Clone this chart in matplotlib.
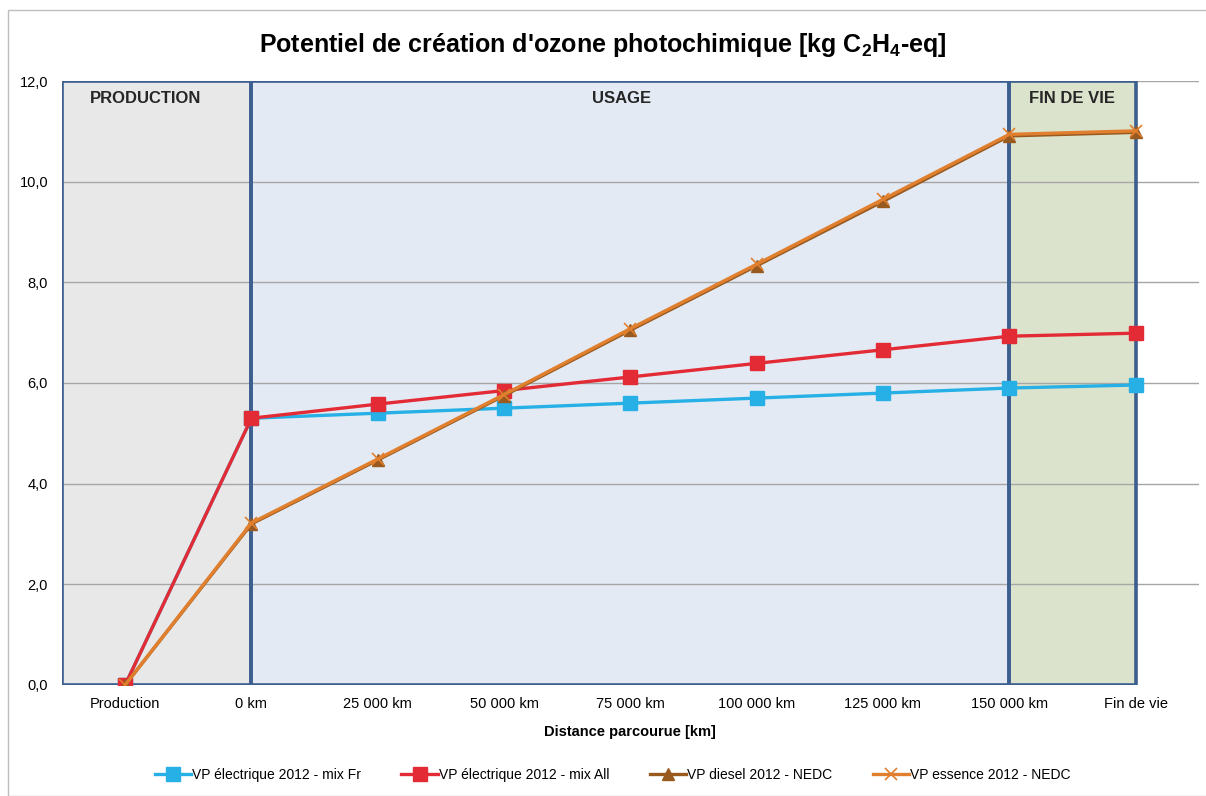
"""
Potentiel de création d'ozone photochimique : courbes cumulées par véhicule
"""

import matplotlib
matplotlib.use("Agg")
import matplotlib.pyplot as plt
from matplotlib.patches import Rectangle

plt.rcParams["font.family"] = ["Liberation Sans", "DejaVu Sans"]
plt.rcParams["mathtext.fontset"] = "custom"
plt.rcParams["mathtext.rm"] = "Liberation Sans:bold"
plt.rcParams["mathtext.it"] = "Liberation Sans:bold"
plt.rcParams["mathtext.bf"] = "Liberation Sans:bold"

# ============== données ==============
categories = ["Production", "0 km", "25 000 km", "50 000 km", "75 000 km",
              "100 000 km", "125 000 km", "150 000 km", "Fin de vie"]
elec_fr = [0.0, 5.30, 5.40, 5.50, 5.60, 5.70, 5.80, 5.90, 5.96]
elec_all = [0.0, 5.30, 5.58, 5.85, 6.12, 6.39, 6.66, 6.93, 6.99]
diesel = [0.0, 3.20, 4.47, 5.75, 7.05, 8.33, 9.61, 10.91, 10.98]
essence = [0.0, 3.22, 4.49, 5.77, 7.08, 8.36, 9.65, 10.94, 11.01]

phases = ["PRODUCTION", "USAGE", "FIN DE VIE"]
phase_bounds = [(-0.5, 1), (1, 7), (7, 8)]
phase_colors = ["#E8E8E8", "#E3EAF4", "#DCE3CC"]

y_ticks = [0, 2, 4, 6, 8, 10, 12]

# ============== figure ==============
fig = plt.figure(figsize=(12.06, 7.96), dpi=100)
ax = fig.add_axes([0.0514, 0.1395, 0.9426, 0.7587])

# cadre gris clair du graphique
fig.add_artist(Rectangle((8 / 1206, 0), 1.2, 1 - 10 / 796, transform=fig.transFigure,
                         fill=False, edgecolor="#BDBDBD", linewidth=1.0))

x = list(range(len(categories)))

# zones de phase (fond + bordure bleu foncé)
label_x = [0.16, 3.93, 7.5]
for name, (x0, x1), col, lx in zip(phases, phase_bounds, phase_colors, label_x):
    ax.add_patch(Rectangle((x0, 0), x1 - x0, 12, facecolor=col, edgecolor="none", zorder=0.5))
    ax.add_patch(Rectangle((x0, 0), x1 - x0, 12, fill=False, edgecolor="#3D5F8F",
                           linewidth=2.6, zorder=2.5))
    ax.text(lx, 11.65, name, ha="center", va="center", fontsize=12, fontweight="bold",
            color="#262626", zorder=3)

for yv in y_ticks[1:]:
    ax.axhline(yv, color="#A6A6A6", linewidth=1.0, zorder=1)

# courbes
ax.plot(x, elec_fr, color="#27B0E6", linewidth=2.4, marker="s", markersize=9.5,
        label="VP électrique 2012 - mix Fr", zorder=4)
ax.plot(x, elec_all, color="#E32B36", linewidth=2.4, marker="s", markersize=9.5,
        label="VP électrique 2012 - mix All", zorder=4)
ax.plot(x, diesel, color="#995A1F", linewidth=2.4, marker="^", markersize=9,
        label="VP diesel 2012 - NEDC", zorder=4)
ax.plot(x, essence, color="#E07F2E", linewidth=2.4, marker="x", markersize=8,
        markeredgewidth=1.2, label="VP essence 2012 - NEDC", zorder=4)

ax.set_xlim(-0.5, 8.5)
ax.set_ylim(0, 12)
ax.set_xticks(x)
ax.set_xticklabels(categories, fontsize=10.5)
ax.set_yticks(y_ticks)
ax.set_yticklabels([f"{v:.1f}".replace(".", ",") for v in y_ticks], fontsize=10.5)
ax.tick_params(axis="both", length=0)
ax.tick_params(axis="x", pad=9)
ax.tick_params(axis="y", pad=10)
for s in ax.spines.values():
    s.set_visible(False)

ax.set_xlabel("Distance parcourue [km]", fontsize=10.5, fontweight="bold", labelpad=10)

fig.text(0.5, 0.943, r"Potentiel de création d'ozone photochimique [kg C$_2$H$_4$-eq]",
         ha="center", va="center", fontsize=18, fontweight="bold")

fig.legend(loc="center", bbox_to_anchor=(0.508, 0.026), ncol=4, frameon=False,
           fontsize=10, handlelength=2.6, columnspacing=2.9, handletextpad=0.1)

fig.savefig("out.png", dpi=100)
